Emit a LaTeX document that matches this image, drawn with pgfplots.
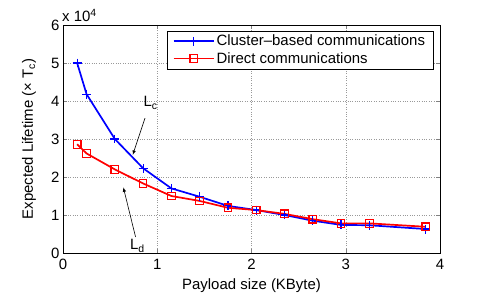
\documentclass[border=0pt]{standalone}
\usepackage{pgfplots}
\pgfplotsset{compat=1.18}
\usepackage{fontspec}
\setmainfont{Liberation Sans}
\begin{document}
\begin{tikzpicture}
\begin{axis}[
  scale only axis,
  width=377bp, height=228bp,
  xmin=0, xmax=4, ymin=0, ymax=6,
  xtick={0,1,2,3,4}, ytick={0,1,2,3,4,5,6},
  /pgf/number format/assume math mode=true,
  tick label style={font=\fontsize{15}{17}\selectfont},
  xticklabel style={yshift=-3bp},
  grid=major,
  major grid style={gray!80, dotted},
  tick align=inside,
  major tick length=4bp,
  xtick pos=both, ytick pos=both,
  axis line style={black},
  xlabel={Payload size (KByte)},
  ylabel={Expected Lifetime (\texttimes{} T\textsubscript{c})},
  every axis x label/.style={at={(axis description cs:0.5,-0.145)}, anchor=center, font=\fontsize{15}{17}\selectfont},
  every axis y label/.style={at={(axis description cs:-0.0902,0.5)}, rotate=90, anchor=center, font=\fontsize{15}{17}\selectfont},
  legend style={at={(0.982,0.974)}, anchor=north east, font=\fontsize{15}{17}\selectfont, draw=black, inner xsep=6bp, inner ysep=2bp, row sep=1bp, legend cell align=left},
  legend image code/.code={\draw[mark repeat=2,mark phase=2,#1] plot coordinates {(0bp,0bp) (20bp,0bp) (40bp,0bp)};},
  clip=false,
]
\addplot[color=blue, line width=1.7pt, mark=+, mark size=4.5pt, mark options={blue, line width=1.2pt}] coordinates {
(0.15,5.00) (0.25,4.18) (0.55,3.00) (0.85,2.23) (1.15,1.70) (1.45,1.48) (1.75,1.24) (2.05,1.13) (2.35,1.00) (2.65,0.85) (2.95,0.74) (3.25,0.73) (3.85,0.63)};
\addlegendentry{Cluster\textendash based communications}
\addplot[color=red, line width=1.7pt, mark=square, mark size=3.8pt, mark options={red, line width=1.2pt}] coordinates {
(0.15,2.86) (0.25,2.62) (0.55,2.20) (0.85,1.83) (1.15,1.50) (1.45,1.37) (1.75,1.19) (2.05,1.13) (2.35,1.03) (2.65,0.89) (2.95,0.78) (3.25,0.78) (3.85,0.69)};
\addlegendentry{Direct communications}
\draw[-latex, line width=0.6pt] (axis cs:0.87,3.55) -- (axis cs:0.74,2.58);
\draw[-latex, line width=0.6pt] (axis cs:0.77,0.42) -- (axis cs:0.64,1.73);
\node[font=\fontsize{15}{17}\selectfont] at (axis cs:0.93,3.95) {L\textsubscript{c}};
\node[font=\fontsize{15}{17}\selectfont] at (axis cs:0.79,0.18) {L\textsubscript{d}};
\node[anchor=south west, font=\fontsize{15}{17}\selectfont, inner sep=0pt] at ([yshift=3bp,xshift=-1bp]current axis.north west) {x 10\textsuperscript{4}};
\end{axis}
\path (current axis.south west) ++(-63bp,-41bp) coordinate (bl);
\path (current axis.north east) ++(45bp,25bp) coordinate (tr);
\pgfresetboundingbox
\useasboundingbox (bl) rectangle (tr);
\end{tikzpicture}
\end{document}
